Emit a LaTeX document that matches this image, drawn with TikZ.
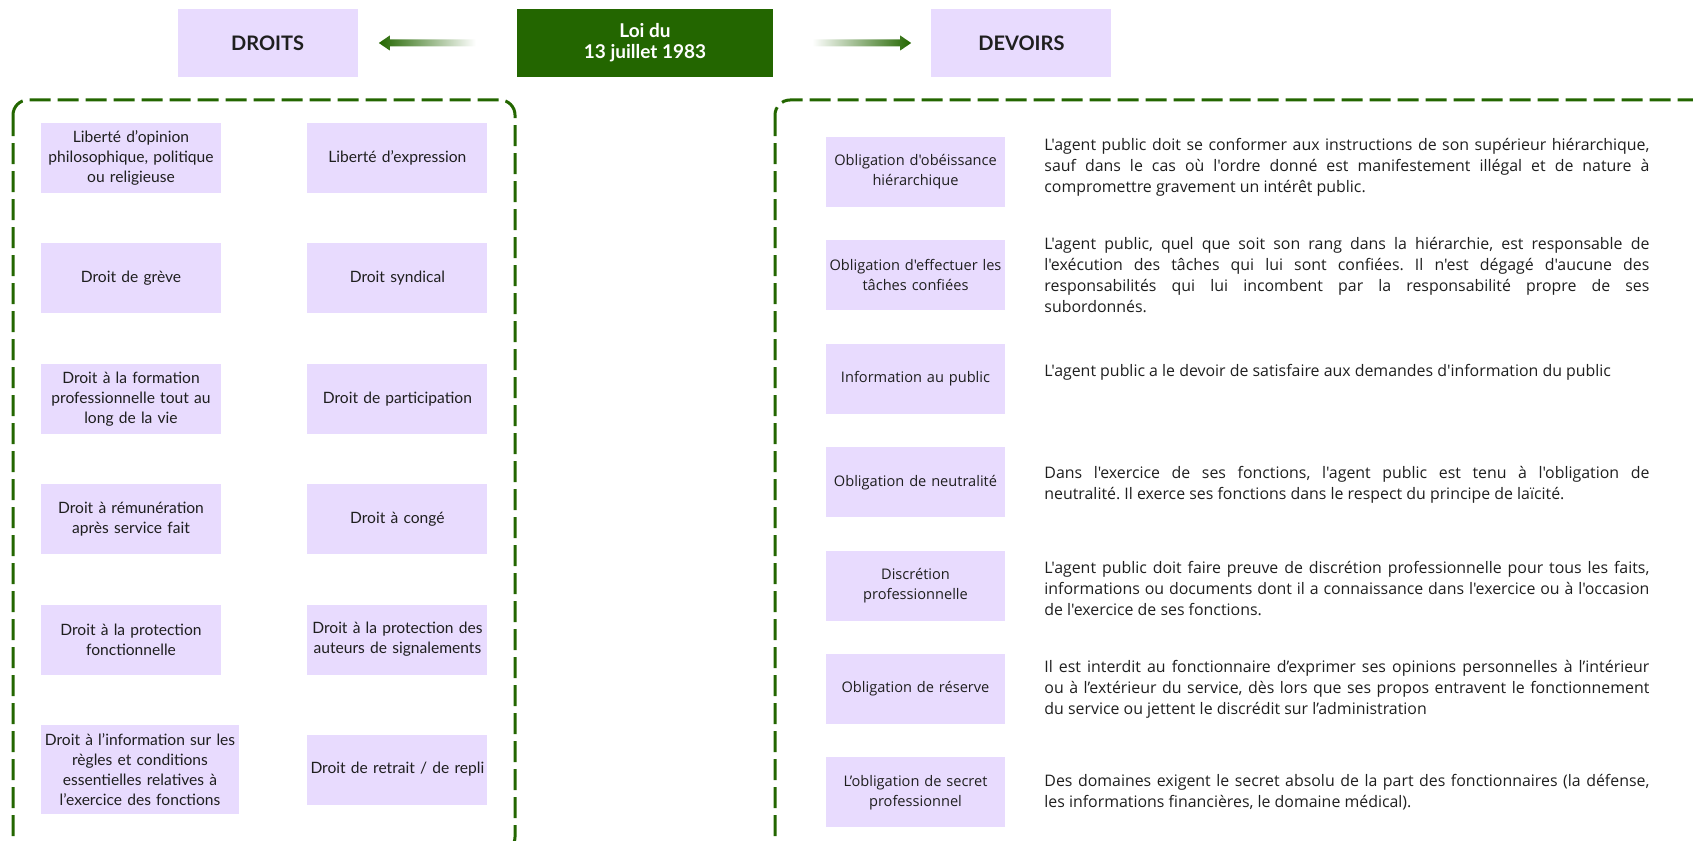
\documentclass[tikz,border=0pt]{standalone}
\usepackage{fontspec}
\setmainfont{Lato}
\newfontfamily\opensans{Open Sans}
\usetikzlibrary{positioning,calc}
\definecolor{loigreen}{HTML}{236600}
\definecolor{lavande}{HTML}{E8DBFE}
\definecolor{encre}{HTML}{1F1F1F}
\frenchspacing

\begin{document}
\begin{tikzpicture}[x=1pt, y=-1pt,
  font=\fontsize{15.6}{20}\selectfont, text=encre,
  box/.style={fill=lavande, align=center, inner sep=1pt},
  droit/.style={box, minimum width=180pt, text width=178pt, minimum height=70pt},
  devoir/.style={box, minimum width=179pt, text width=179pt, inner sep=0pt, minimum height=70pt, font=\opensans\fontsize{14.6}{20}\selectfont},
  texte/.style={text width=605pt, align=justify, inner sep=0pt, font=\opensans\fontsize{15.9}{21}\selectfont},
  titre/.style={fill=lavande, minimum width=180pt, minimum height=68pt, font=\bfseries\fontsize{20}{20}\selectfont},
  cadre/.style={draw=loigreen, line width=3pt, dash pattern=on 21pt off 7pt, rounded corners=15pt},
  node distance=50pt and 86pt
]
\useasboundingbox (0,0) rectangle (1693,840);

% en-tete
\node[fill=loigreen, text=white, minimum width=256pt, minimum height=68pt, align=center,
  font=\bfseries\fontsize{19}{21}\selectfont] (loi) at (645,43) {Loi du\\13 juillet 1983};
\node[titre, left=159pt of loi] (droits) {DROITS};
\node[titre, right=158pt of loi] (devoirs) {DEVOIRS};

\shade[left color=loigreen, middle color=loigreen!80!white, right color=white]
  ($(droits.east)+(21,0)$) -- ++(11,-7.5) -- ++(0,4) -- ($(loi.west)+(-41,-3.5)$) -- ++(0,7)
  -- ($(droits.east)+(32,3.5)$) -- ++(0,4) -- cycle;
\shade[left color=white, middle color=loigreen!80!white, right color=loigreen]
  ($(devoirs.west)+(-20,0)$) -- ++(-11,-7.5) -- ++(0,4) -- ($(loi.east)+(39,-3.5)$) -- ++(0,7)
  -- ($(devoirs.west)+(-31,3.5)$) -- ++(0,4) -- cycle;

% cadres
\draw[cadre] (13,100) rectangle (515,852);
\draw[cadre] (775,100) rectangle (1720,852);

% droits
\node[droit] (d1) at (131,158) {Liberté d’opinion\\philosophique, politique\\ou religieuse};
\node[droit, right=of d1] (d2) {Liberté d’expression};
\node[droit, below=of d1] (d3) {Droit de grève};
\node[droit] (d4) at (d3 -| d2) {Droit syndical};
\node[droit, below=of d3] (d5) {Droit à la formation\\professionnelle tout au\\long de la vie};
\node[droit] (d6) at (d5 -| d2) {Droit de participation};
\node[droit, below=of d5] (d7) {Droit à rémunération\\après service fait};
\node[droit] (d8) at (d7 -| d2) {Droit à congé};
\node[droit, below=of d7] (d9) {Droit à la protection\\fonctionnelle};
\node[droit] (d10) at (d9 -| d2) {Droit à la protection des\\auteurs de signalements};
\node[droit, minimum width=198pt, text width=196pt, minimum height=89pt, below=50pt of d9.south west, anchor=north west] (d11)
  {Droit à l’information sur les\\règles et conditions\\essentielles relatives à\\l’exercice des fonctions};
\node[droit] (d12) at (d11 -| d2) {Droit de retrait / de repli};

% devoirs
\node[devoir] (o1) at (915.5,172) {Obligation d'obéissance\\hiérarchique};
\node[devoir, below=33pt of o1] (o2) {Obligation d'effectuer les\\tâches confiées};
\node[devoir, below=33pt of o2] (o3) {Information au public};
\node[devoir, below=33pt of o3] (o4) {Obligation de neutralité};
\node[devoir, below=33pt of o4] (o5) {Discrétion\\professionnelle};
\node[devoir, below=33pt of o5] (o6) {Obligation de réserve};
\node[devoir, below=33pt of o6] (o7) {L’obligation de secret\\professionnel};

\node[texte, right=39pt of o1, yshift=5pt] (t1) {L'agent public doit se conformer aux instructions de son supérieur hiérarchique,\linebreak
  sauf dans le cas où l'ordre donné est manifestement illégal et de nature à\linebreak
  compromettre gravement un intérêt public.};
\node[texte, right=39pt of o2] (t2) {L'agent public, quel que soit son rang dans la hiérarchie, est responsable de\linebreak
  l'exécution des tâches qui lui sont confiées. Il n'est dégagé d'aucune des\linebreak
  responsabilités qui lui incombent par la responsabilité propre de ses\linebreak
  subordonnés.};
\node[texte, right=39pt of o3, yshift=6pt] (t3) {L'agent public a le devoir de satisfaire aux demandes d'information du public};
\node[texte, right=39pt of o4, yshift=-3pt] (t4) {Dans l'exercice de ses fonctions, l'agent public est tenu à l'obligation de\linebreak
  neutralité. Il exerce ses fonctions dans le respect du principe de laïcité.};
\node[texte, right=39pt of o5, yshift=-3pt] (t5) {L'agent public doit faire preuve de discrétion professionnelle pour tous les faits,\linebreak
  informations ou documents dont il a connaissance dans l'exercice ou à l'occasion\linebreak
  de l'exercice de ses fonctions.};
\node[texte, right=39pt of o6] (t6) {Il est interdit au fonctionnaire d’exprimer ses opinions personnelles à l’intérieur\linebreak
  ou à l’extérieur du service, dès lors que ses propos entravent le fonctionnement\linebreak
  du service ou jettent le discrédit sur l’administration};
\node[texte, right=39pt of o7] (t7) {Des domaines exigent le secret absolu de la part des fonctionnaires (la défense,\linebreak
  les informations financières, le domaine médical).};
\end{tikzpicture}
\end{document}
